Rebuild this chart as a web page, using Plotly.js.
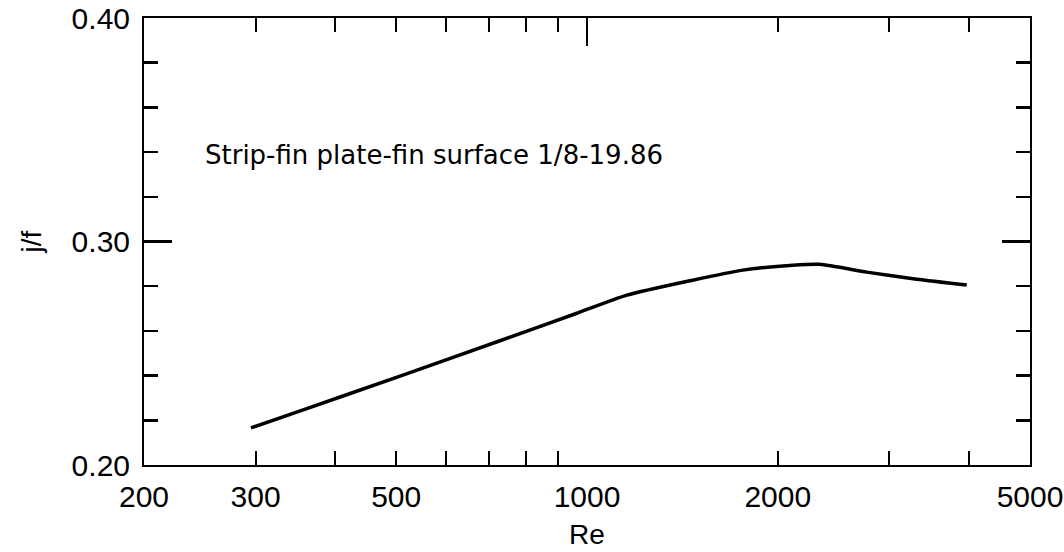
<!DOCTYPE html>
<html>
<head>
<meta charset="utf-8">
<script src="https://cdn.plot.ly/plotly-3.0.1.min.js"></script>
<style>html,body{margin:0;padding:0;background:#fff;}#chart{width:1064px;height:552px;}</style>
</head>
<body>
<div id="chart"></div>
<script>
// Data
const reynolds = [295, 352, 507, 729, 964, 1156, 1468, 1761, 2112, 2330, 2762, 3314, 3974];
const jOverF   = [0.2166, 0.2241, 0.2398, 0.2556, 0.2679, 0.2760, 0.2827, 0.2872, 0.2894, 0.2898, 0.2863, 0.2831, 0.2805];

const xLabelVals = [200, 300, 500, 1000, 2000, 5000];
const xLabelText = ['200', '300', '500', '1000', '2000', '5000'];
const xMinorVals = [300, 400, 500, 600, 700, 800, 900, 2000, 3000, 4000];
const xTopMajor  = [1000];
const yMajorVals = [0.20, 0.30, 0.40];
const yMajorText = ['0.20', '0.30', '0.40'];
const yMinorVals = [0.22, 0.24, 0.26, 0.28, 0.32, 0.34, 0.36, 0.38];
const noteText = 'Strip-fin plate-fin surface 1/8-19.86';

const xRange = [Math.log10(200), Math.log10(5000)];
const tickFont = {family: '"Liberation Sans", Arial, sans-serif', size: 30, color: '#000'};

const traces = [{
  x: reynolds, y: jOverF, type: 'scatter', mode: 'lines',
  line: {color: '#000', width: 3.5, shape: 'spline', smoothing: 0.6},
  hoverinfo: 'skip', showlegend: false
}];

const layout = {
  width: 1064, height: 552,
  margin: {l: 144, r: 34, t: 18, b: 87},
  paper_bgcolor: '#fff', plot_bgcolor: '#fff',
  showlegend: false,
  xaxis: {
    type: 'log', range: xRange,
    showgrid: false, zeroline: false,
    showline: true, linecolor: '#000', linewidth: 2, mirror: 'ticks',
    ticks: '', tickmode: 'array', tickvals: xLabelVals, ticktext: xLabelText,
    tickfont: tickFont, ticklabelstandoff: 4,
    minor: {ticks: 'inside', tickmode: 'array', tickvals: xMinorVals, ticklen: 14, tickwidth: 2, tickcolor: '#000', showgrid: false},
    title: {text: 'Re', font: {family: '"Liberation Sans", Arial, sans-serif', size: 28, color: '#000'}, standoff: 12}
  },
  xaxis2: {
    type: 'log', range: xRange, overlaying: 'x', side: 'top', anchor: 'y',
    showgrid: false, zeroline: false, showline: false,
    ticks: 'inside', tickmode: 'array', tickvals: xTopMajor, ticklen: 28, tickwidth: 2, tickcolor: '#000',
    showticklabels: false
  },
  yaxis: {
    range: [0.20, 0.40],
    showgrid: false, zeroline: false,
    showline: true, linecolor: '#000', linewidth: 2, mirror: 'ticks',
    ticks: 'inside', ticklen: 28, tickwidth: 3, tickcolor: '#000',
    tickmode: 'array', tickvals: yMajorVals, ticktext: yMajorText,
    tickfont: tickFont, ticklabelstandoff: 6,
    minor: {ticks: 'inside', tickmode: 'array', tickvals: yMinorVals, ticklen: 14, tickwidth: 2.5, tickcolor: '#000', showgrid: false},
    title: {text: 'j/f', font: {family: '"Liberation Sans", Arial, sans-serif', size: 28, color: '#000'}, standoff: 22}
  },
  annotations: [{
    xref: 'paper', yref: 'paper', x: 0.0666, y: 0.6935,
    xanchor: 'left', yanchor: 'middle', showarrow: false,
    text: noteText,
    font: {family: '"DejaVu Sans", Verdana, sans-serif', size: 26, color: '#000'}
  }]
};

// invisible companion trace so the top axis is drawn
traces.push({x: [reynolds[0]], y: [jOverF[0]], xaxis: 'x2', yaxis: 'y', type: 'scatter', mode: 'markers', marker: {opacity: 0}, hoverinfo: 'skip', showlegend: false});

Plotly.newPlot('chart', traces, layout, {staticPlot: true, displayModeBar: false});
</script>
</body>
</html>
